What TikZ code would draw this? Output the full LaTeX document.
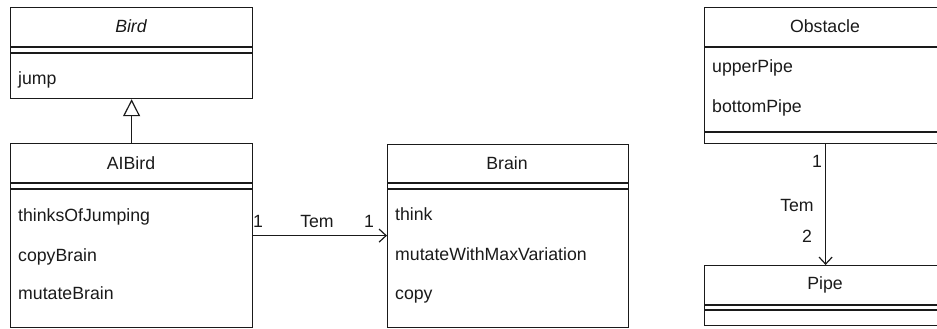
\documentclass[tikz,border=0pt]{standalone}
\usepackage{fontspec}
\setmainfont{Liberation Sans}
\usetikzlibrary{arrows.meta}
\definecolor{ink}{HTML}{1A1A1A}
\tikzset{
  every node/.style={text=ink, font=\fontsize{17.7}{21}\selectfont},
  classbox/.style={draw=ink, line width=1.2pt, rectangle, inner sep=0pt, anchor=north west},
  sep/.style={draw=ink, line width=1.2pt},
  member/.style={anchor=west, inner sep=0pt, text height=12pt, text depth=3.5pt},
  title/.style={inner sep=0pt, text height=12pt, text depth=3.5pt},
  mult/.style={inner sep=0pt, text height=12pt, text depth=3.5pt},
  conn/.style={draw=ink, line width=1.2pt},
}
\begin{document}
\begin{tikzpicture}[x=1pt, y=-1pt]
\useasboundingbox (0,0) rectangle (937,329);
\clip (0,0) rectangle (937,329);

% ---- Bird (abstract) ----
\node[classbox, minimum width=242pt, minimum height=91pt] (bird) at (10,7) {};
\draw[sep] (10,47) -- (252,47);
\draw[sep] (10,53) -- (252,53);
\node[title, font=\fontsize{17.7}{21}\selectfont\itshape] (birdname) at (131,28) {Bird};
\node[member] (birdjump) at (18,80) {jump};

% ---- AIBird ----
\node[classbox, minimum width=242pt, minimum height=184pt] (aibird) at (10,143) {};
\draw[sep] (10,183) -- (252,183);
\draw[sep] (10,189) -- (252,189);
\node[title] (aibirdname) at (131,165) {AIBird};
\node[member] (m1) at (18,217) {thinksOfJumping};
\node[member] (m2) at (18,257) {copyBrain};
\node[member] (m3) at (18,295) {mutateBrain};

% ---- Brain ----
\node[classbox, minimum width=241pt, minimum height=183pt] (brain) at (387,144) {};
\draw[sep] (387,183) -- (628,183);
\draw[sep] (387,189) -- (628,189);
\node[title] (brainname) at (507,165) {Brain};
\node[member] (b1) at (395,216) {think};
\node[member] (b2) at (395,256) {mutateWithMaxVariation};
\node[member] (b3) at (395,295) {copy};

% ---- Obstacle ----
\node[classbox, minimum width=242pt, minimum height=136pt] (obstacle) at (704,7) {};
\draw[sep] (704,47) -- (946,47);
\draw[sep] (704,132) -- (946,132);
\node[title] (obstaclename) at (825,28) {Obstacle};
\node[member] (o1) at (712,68) {upperPipe};
\node[member] (o2) at (712,108) {bottomPipe};

% ---- Pipe ----
\node[classbox, minimum width=242pt, minimum height=60pt] (pipe) at (704,265) {};
\draw[sep] (704,305) -- (946,305);
\draw[sep] (704,310) -- (946,310);
\node[title] (pipename) at (825,285) {Pipe};

% ---- Generalisation: AIBird -> Bird ----
\draw[conn, -{Triangle[open, width=17pt, length=17pt, line width=1.2pt]}] (aibird.north) -- (bird.south);

% ---- Association: AIBird -> Brain ----
\draw[conn, -{Straight Barb[length=7pt, width=13pt, line width=1.2pt]}] (aibird.east) -- (aibird.east -| brain.west);
\node[mult] (a1) at (258,223) {1};
\node[mult] (atem) at (317,223) {Tem};
\node[mult] (a2) at (369,223) {1};

% ---- Association: Obstacle -> Pipe ----
\draw[conn, -{Straight Barb[length=7pt, width=13pt, line width=1.2pt]}] (obstacle.south) -- (pipe.north);
\node[mult] (p1) at (817,163) {1};
\node[mult] (ptem) at (797,207) {Tem};
\node[mult] (p2) at (807,238) {2};
\end{tikzpicture}
\end{document}
